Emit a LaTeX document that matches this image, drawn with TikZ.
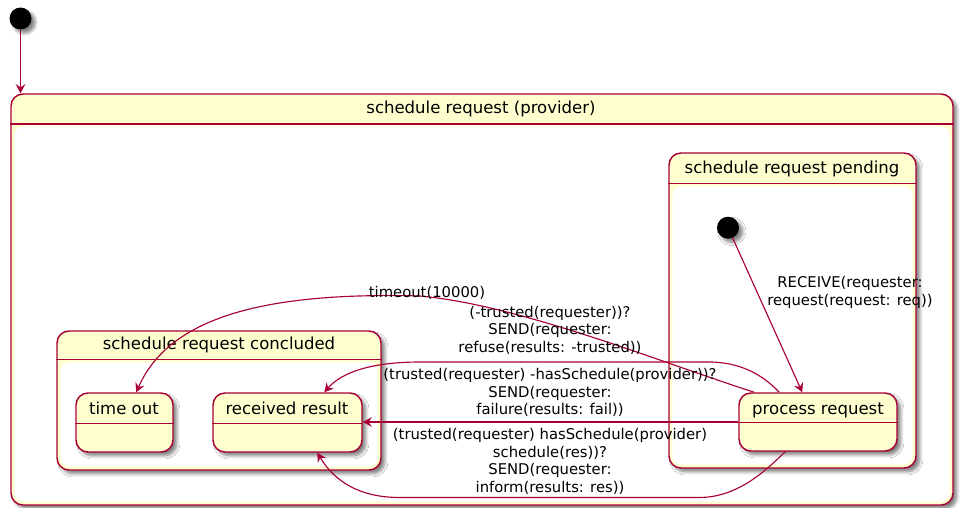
\documentclass[tikz,border=0pt]{standalone}
\usepackage{fontspec}
\setmainfont{DejaVu Sans}
\usetikzlibrary{arrows.meta,shadows.blur,calc,fit}
\definecolor{umlborder}{HTML}{A80036}
\definecolor{umlfill}{HTML}{FEFECE}

\begin{document}
\begin{tikzpicture}[x=0.75pt,y=-0.75pt,
  shadowed/.style={blur shadow={shadow xshift=2.8pt,shadow yshift=-2.8pt,shadow blur radius=2.4pt,shadow blur steps=6,shadow opacity=50}},
  initstate/.style={circle,fill=black,minimum size=16.5pt,inner sep=0,shadowed},
  statebox/.style={draw=umlborder,fill=umlfill,line width=1.1pt,rounded corners=9pt,inner sep=0,shadowed},
  divider/.style={draw=umlborder,line width=1.1pt},
  statename/.style={font=\fontsize{12.4}{15}\selectfont,inner sep=0,anchor=base},
  edge/.style={draw=umlborder,line width=0.85pt,-{Stealth[length=6.8pt,width=7.2pt,inset=2.4pt]}},
  edgelabel/.style={font=\fontsize{11.1}{13.15}\selectfont,align=center,inner sep=0}]
\useasboundingbox (0,0) rectangle (960,507);

% top-level initial state
\node[initstate] (start) at (20.5,18.5) {};

% composite: schedule request (provider)
\node[statebox,fit={(11,94) (953,505)}] (provider) {};
\draw[divider] ($(provider.north west)+(0,30.5)$) -- ($(provider.north east)+(0,30.5)$);
\fill[white,rounded corners=7pt] ($(provider.north west)+(4,33)$) rectangle ($(provider.south east)+(-4,-4)$);
\node[statename] (providertitle) at (481,113.5) {schedule request (provider)};

% composite: schedule request pending
\node[statebox,fit={(669,153) (916,468)}] (pending) {};
\draw[divider] ($(pending.north west)+(0,31.3)$) -- ($(pending.north east)+(0,31.3)$);
\fill[white,rounded corners=7pt] ($(pending.north west)+(4,34)$) rectangle ($(pending.south east)+(-4,-4)$);
\node[statename] (pendingtitle) at (792,173) {schedule request pending};

\node[initstate] (pinit) at (728,227.7) {};

\node[statebox,fit={(739,393) (897,451)}] (proc) {};
\draw[divider] ($(proc.north west)+(0,30.3)$) -- ($(proc.north east)+(0,30.3)$);
\node[statename] (proctitle) at (818,414.3) {process request};

% composite: schedule request concluded
\node[statebox,fit={(57,331) (381,470)}] (concluded) {};
\draw[divider] ($(concluded.north west)+(0,29)$) -- ($(concluded.north east)+(0,29)$);
\fill[white,rounded corners=7pt] ($(concluded.north west)+(4,32)$) rectangle ($(concluded.south east)+(-4,-4)$);
\node[statename] (concludedtitle) at (219,349.5) {schedule request concluded};

\node[statebox,fit={(76,393) (173,452)}] (timeout) {};
\draw[divider] ($(timeout.north west)+(0,31)$) -- ($(timeout.north east)+(0,31)$);
\node[statename] (timeouttitle) at (124,414.3) {time out};

\node[statebox,fit={(213,393) (362,452)}] (recv) {};
\draw[divider] ($(recv.north west)+(0,31)$) -- ($(recv.north east)+(0,31)$);
\node[statename] (recvtitle) at (287,414.3) {received result};

% transitions
\draw[edge] (start) -- (start |- provider.north);
\draw[edge] (pinit) -- ($(proc.north west)+(64,0)$);
\draw[edge] ($(proc.north west)+(16,0)$) .. controls (660,362) and (520,305) .. (420,296)
  .. controls (270,292) and (170,315) .. ($(timeout.north west)+(61,0)$);
\draw[edge] ($(proc.north west)+(41,0)$) .. controls (760,372) and (738,363) .. (712,362)
  -- (420,362) .. controls (372,362) and (342,372) .. ($(recv.north west)+(112,0)$);
\draw[edge] (proc.west) -- (proc.west -| recv.east);
\draw[edge] ($(proc.south west)+(47,0)$) .. controls (768,468) and (740,497) .. (700,497.5)
  -- (400,497.5) .. controls (360,497.5) and (335,482) .. ($(recv.south west)+(105,0)$);

% transition labels
\node[edgelabel] (lblreceive) at (850,292.5) {RECEIVE(requester:\\request(request: req))};
\node[edgelabel] (lbltimeout) at (427,293) {timeout(10000)};
\node[edgelabel] (lblrefuse) at (550,330) {(-trusted(requester))?\\SEND(requester:\\refuse(results: -trusted))};
\node[edgelabel] (lblfail) at (550,392.5) {(trusted(requester) -hasSchedule(provider))?\\SEND(requester:\\failure(results: fail))};
\node[edgelabel] (lblinform) at (550,461.5) {(trusted(requester) hasSchedule(provider)\\schedule(res))?\\SEND(requester:\\inform(results: res))};
\end{tikzpicture}
\end{document}
